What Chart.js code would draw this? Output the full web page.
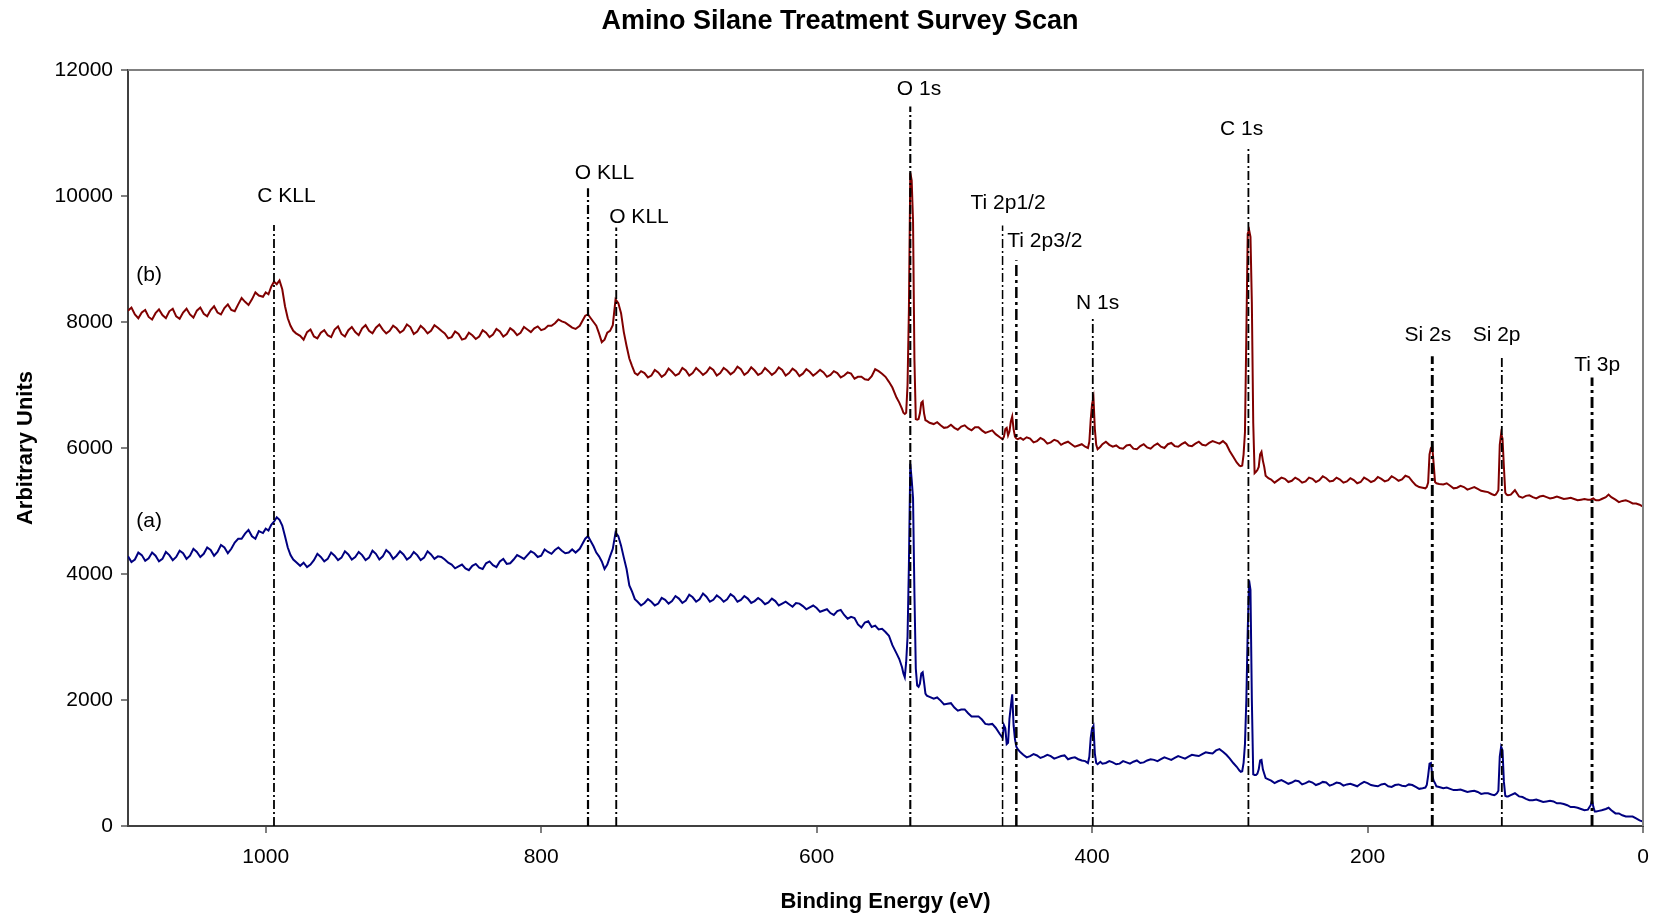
<!DOCTYPE html>
<html><head><meta charset="utf-8">
<script src="https://cdn.jsdelivr.net/npm/chart.js@4.4.1/dist/chart.umd.min.js"></script>
<style>html,body{margin:0;padding:0;background:#fff;}canvas{display:block}</style>
</head><body>
<canvas id="c" width="1660" height="916"></canvas>
<script>
// Binding energy grid (eV), shared by both scans
const energies = [
 1100,1095,1090,1085,1080,1075,1070,1065,1060,1055,1050,1045,1040,1035,1030,1025,1020,1015,1010,1005,
 1002,1000,998,996,994,992,990,988,986,984,982,980,978,
 975,970,965,960,955,950,945,940,935,930,925,920,915,910,905,900,895,890,885,880,875,870,865,860,855,850,845,840,835,830,825,820,815,810,805,800,795,790,785,780,775,
 772,770,768,766,764,762,760,758,756,754,752,750,748,746,744,742,740,738,736,734,732,730,
 725,720,715,710,705,700,695,690,685,680,675,670,665,660,655,650,645,640,635,630,625,620,615,610,605,600,595,590,585,580,575,570,565,560,555,550,545,
 542,540,538,537,536,535,534,533,532,531,530,529,528,527,526,525,524,523,522,521,520,518,
 515,510,505,500,495,490,485,480,475,470,
 467,465,464,463,462,461,460,459,458,457,456,455,454,452,450,
 445,440,435,430,425,420,415,410,405,
 403,402,401,400,399,398,397,396,394,
 390,385,380,375,370,365,360,355,350,345,340,335,330,325,320,315,310,305,300,295,
 293,292,291,290,289,288,287,286,285,284,283,282,281,280,279,278,277,276,275,274,272,270,
 265,260,255,250,245,240,235,230,225,220,215,210,205,200,195,190,185,180,175,170,165,160,
 158,157,156,155,154,153,152,151,150,148,
 145,140,135,130,125,120,115,110,
 108,107,106,105,104,103,102,101,100,99,98,96,
 93,90,85,80,75,70,65,60,55,50,45,40,
 38,37,36,35,34,32,30,27,25,23,20,15,10,5,0
];
// (b) scan counts
const scanB = [
 8180,8120,8150,8080,8140,8110,8170,8090,8150,8120,8180,8130,8190,8150,8220,8190,8280,8320,8360,8420,
 8400,8470,8440,8560,8640,8600,8660,8520,8250,8060,7940,7860,7820,
 7780,7840,7770,7830,7790,7880,7810,7870,7840,7900,7860,7910,7880,7860,7900,7870,7920,7850,7890,7860,7910,7820,7760,7810,7740,7790,7770,7830,7800,7850,7810,7860,7830,7880,7900,7870,7940,7980,8010,7950,7890,
 7940,8020,8100,8120,8060,8000,7940,7820,7680,7720,7830,7860,7950,8360,8300,8140,7840,7620,7420,7300,7190,7160,
 7190,7150,7200,7170,7210,7180,7230,7190,7220,7200,7240,7190,7230,7210,7250,7200,7230,7190,7220,7200,7240,7190,7220,7180,7210,7190,7200,7160,7190,7150,7180,7130,7090,7140,7220,7130,6960,
 6800,6720,6620,6560,6540,6560,7000,8200,10370,10250,9600,7400,6460,6450,6460,6550,6720,6740,6550,6440,6430,6400,
 6380,6360,6330,6320,6340,6310,6330,6280,6260,6220,
 6170,6140,6180,6300,6320,6200,6260,6420,6500,6300,6180,6150,6140,6160,6130,
 6150,6110,6130,6090,6110,6080,6060,6040,6020,
 6000,6100,6450,6700,6800,6300,6050,5980,6020,
 6100,6020,6000,6040,5990,6030,6010,6040,6020,6060,6030,6060,6040,6070,6050,6080,6090,6110,5950,5770,
 5720,5710,5720,5900,6250,7800,9400,9460,9350,8300,6400,5600,5620,5650,5700,5900,5940,5800,5700,5560,5520,5500,
 5490,5510,5480,5500,5470,5510,5490,5520,5480,5500,5470,5490,5460,5500,5480,5510,5490,5520,5500,5540,5410,5370,
 5360,5380,5450,5900,6000,6020,5750,5460,5440,5430,
 5420,5400,5370,5380,5360,5350,5310,5270,
 5250,5260,5290,5330,6050,6230,6150,5700,5290,5260,5250,5260,
 5330,5230,5240,5220,5230,5220,5210,5210,5200,5190,5180,5180,
 5180,5190,5200,5180,5170,5170,5190,5220,5260,5220,5180,5160,5150,5120,5070
];
// (a) scan counts
const scanA = [
 4280,4230,4300,4250,4290,4240,4300,4270,4330,4290,4350,4320,4380,4350,4420,4400,4560,4640,4600,4680,
 4650,4720,4690,4780,4830,4900,4860,4770,4600,4420,4300,4230,4190,
 4130,4110,4220,4270,4240,4290,4260,4310,4270,4300,4260,4320,4280,4330,4290,4310,4270,4300,4260,4310,4280,4230,4150,4120,4090,4130,4100,4170,4140,4200,4160,4230,4270,4300,4330,4290,4350,4380,4370,4340,4340,
 4400,4480,4560,4600,4520,4440,4340,4280,4200,4080,4150,4280,4400,4660,4600,4450,4260,4080,3820,3720,3600,3560,
 3540,3560,3530,3590,3570,3610,3580,3630,3600,3640,3590,3620,3600,3640,3590,3610,3570,3580,3550,3570,3530,3520,3540,3490,3470,3460,3420,3380,3410,3350,3320,3200,3230,3160,3120,3080,2870,
 2740,2650,2520,2420,2360,2600,3000,4150,5750,5500,5200,3700,2500,2230,2210,2260,2420,2440,2280,2100,2070,2050,
 2020,1990,1940,1880,1850,1790,1740,1690,1610,1560,
 1460,1400,1600,1550,1300,1320,1700,1900,2090,1600,1380,1260,1220,1170,1130,
 1110,1120,1100,1110,1090,1120,1080,1060,1030,
 1000,1100,1400,1550,1590,1150,1000,980,1020,
 1000,1010,990,1010,1020,1000,1040,1050,1060,1070,1080,1090,1100,1120,1140,1160,1200,1180,1070,940,
 880,860,870,1000,1300,2000,3100,3900,3750,2000,820,810,810,830,900,1040,1050,900,830,760,740,720,
 710,700,690,710,680,690,670,690,660,680,660,650,670,680,640,660,630,650,640,660,620,600,
 610,650,800,990,1000,800,720,680,630,620,
 600,590,570,560,550,540,520,500,
 490,500,520,560,1100,1260,1200,700,480,470,470,490,
 520,470,430,410,400,390,390,360,330,300,270,260,
 330,410,300,230,230,240,250,270,290,250,200,170,150,120,70
];
// extra samples read from the noisy flat stretches (between the grid points above)
const midEnergies = [
 1097.5,1092.5,1087.5,1082.5,1077.5,1072.5,1067.5,1062.5,1057.5,1052.5,1047.5,1042.5,1037.5,1032.5,1027.5,1022.5,1017.5,1012.5,1007.5,
 972.5,967.5,962.5,957.5,952.5,947.5,942.5,937.5,932.5,927.5,922.5,917.5,912.5,907.5,902.5,897.5,892.5,887.5,882.5,877.5,872.5,867.5,862.5,857.5,852.5,847.5,842.5,837.5,832.5,827.5,822.5,817.5,812.5,807.5,802.5,797.5,792.5,787.5,782.5,777.5,
 727.5,722.5,717.5,712.5,707.5,702.5,697.5,692.5,687.5,682.5,677.5,672.5,667.5,662.5,657.5,652.5,647.5,642.5,637.5,632.5,627.5,622.5,617.5,612.5,607.5,602.5,597.5,592.5,587.5,582.5,577.5,572.5,567.5,562.5,557.5,552.5,547.5,
 512.5,507.5,502.5,497.5,492.5,487.5,482.5,477.5,472.5,
 447.5,442.5,437.5,432.5,427.5,422.5,417.5,412.5,407.5,
 392.5,387.5,382.5,377.5,372.5,367.5,362.5,357.5,352.5,347.5,342.5,337.5,332.5,327.5,322.5,317.5,312.5,307.5,302.5,297.5,
 267.5,262.5,257.5,252.5,247.5,242.5,237.5,232.5,227.5,222.5,217.5,212.5,207.5,202.5,197.5,192.5,187.5,182.5,177.5,172.5,167.5,162.5,
 142.5,137.5,132.5,127.5,122.5,117.5,112.5,
 87.5,82.5,77.5,72.5,67.5,62.5,57.5,52.5,47.5,42.5,
 17.5,12.5,7.5,2.5
];
const midB = [
 8230,8060,8190,8040,8200,8060,8210,8050,8210,8070,8230,8090,8250,8120,8280,8170,8380,8270,8470,
 7720,7880,7740,7870,7760,7930,7770,7920,7790,7950,7820,7960,7820,7940,7830,7960,7810,7940,7820,7950,7860,7740,7850,7720,7830,7730,7870,7760,7890,7770,7900,7790,7920,7840,7930,7890,7940,8040,7990,7910,
 7220,7120,7240,7130,7260,7150,7270,7150,7270,7160,7280,7150,7270,7170,7290,7160,7280,7160,7270,7160,7280,7150,7260,7140,7250,7150,7240,7130,7220,7120,7200,7100,7130,7080,7250,7180,7050,
 6410,6320,6370,6290,6360,6280,6330,6240,6280,
 6170,6090,6160,6070,6130,6050,6100,6020,6060,
 6060,6050,6040,5990,6050,5980,6060,5990,6070,6000,6080,6020,6090,6030,6100,6040,6110,6070,6060,5860,
 5450,5530,5460,5530,5450,5530,5460,5550,5470,5530,5450,5520,5440,5530,5460,5540,5470,5550,5480,5560,5470,5380,
 5440,5360,5400,5340,5380,5320,5300,
 5210,5250,5200,5240,5200,5230,5190,5210,5170,5190,
 5140,5170,5120,5100
];
const midA = [
 4190,4340,4210,4340,4200,4350,4220,4370,4240,4400,4270,4420,4290,4460,4330,4500,4560,4700,4560,
 4180,4150,4320,4200,4340,4220,4360,4230,4350,4220,4370,4230,4380,4240,4360,4230,4350,4220,4360,4240,4270,4180,4090,4150,4060,4160,4080,4200,4110,4240,4170,4300,4240,4360,4270,4390,4320,4420,4330,4390,
 3500,3600,3500,3620,3530,3650,3540,3670,3560,3690,3560,3660,3560,3680,3560,3650,3540,3620,3520,3610,3500,3560,3480,3530,3440,3500,3400,3440,3350,3430,3290,3300,3150,3250,3180,3130,3020,
 2040,1930,1950,1830,1850,1740,1740,1620,1620,
 1090,1140,1080,1130,1070,1110,1060,1090,1040,
 990,1030,980,1030,990,1040,1010,1060,1030,1090,1050,1110,1070,1130,1110,1170,1150,1220,1130,1000,
 680,730,670,720,660,710,650,700,640,690,640,670,630,700,650,630,670,620,660,630,650,590,
 610,570,580,540,560,510,520,
 460,410,420,380,400,360,350,300,290,250,
 200,150,150,90
];
const xTicks = [0,200,400,600,800,1000];
const yTicks = [0,2000,4000,6000,8000,10000,12000];

// Peak assignments
const peakNames     = ['C KLL','O KLL','O KLL','O 1s','Ti 2p1/2','Ti 2p3/2','N 1s','C 1s','Si 2s','Si 2p','Ti 3p'];
const peakEnergies  = [994,766,745.5,532,465,455,399.5,286.5,153,102.5,37];
const peakLineTops  = [9540,10125,9500,11420,9530,8980,8065,10790,7455,7455,7120];
const labelEnergies = [985,754,729,525.7,461,434.3,396,291.4,156.2,106.3,33.3];
const labelValues   = [10000,10365,9667,11698,9889,9275,8302,11063,7794,7794,7318];
const seriesTags    = ['(b)','(a)'];
const tagEnergies   = [1094,1094];
const tagValues     = [8746,4843];

// styles (kept apart from data)
const markerWidths = [1.8,2.2,1.9,2.1,1.5,2.5,1.8,1.8,2.9,1.8,2.9];
const FONT = '"Liberation Sans", Arial, Helvetica, sans-serif';

// merge grid + extra samples into one table sorted by energy
const table = energies.map((e,i)=>({e, b:scanB[i], a:scanA[i]}))
  .concat(midEnergies.map((e,i)=>({e, b:midB[i], a:midA[i]})))
  .sort((p,q)=>q.e-p.e);

const datasets = [];
peakNames.forEach((n,i)=>{
  const w = markerWidths[i];
  datasets.push({
    label: n, data: [{x:peakEnergies[i], y:0},{x:peakEnergies[i], y:peakLineTops[i]}],
    borderColor:'#000', borderWidth:w, borderDash: w>2.2 ? [11,4,3,4] : [9,3,2,3],
    pointRadius:0, fill:false, order:0
  });
});
datasets.push({label:'(b)', data: table.map(r=>({x:r.e,y:r.b})), borderColor:'#800000', borderWidth:2, pointRadius:0, fill:false, tension:0, order:1});
datasets.push({label:'(a)', data: table.map(r=>({x:r.e,y:r.a})), borderColor:'#000080', borderWidth:2, pointRadius:0, fill:false, tension:0, order:1});

const deco = {
  id:'deco',
  afterDraw(chart){
    const {ctx, chartArea:a, scales:{x,y}} = chart;
    ctx.save();
    ctx.strokeStyle='#808080'; ctx.lineWidth=2;
    ctx.beginPath(); ctx.moveTo(a.left,a.top); ctx.lineTo(a.right,a.top); ctx.lineTo(a.right,a.bottom); ctx.stroke();
    ctx.fillStyle='#000';
    ctx.font='bold 27px '+FONT; ctx.textAlign='center'; ctx.textBaseline='middle';
    ctx.fillText('Amino Silane Treatment Survey Scan', 840, 22);
    ctx.font='21px '+FONT;
    peakNames.forEach((n,i)=> ctx.fillText(n, x.getPixelForValue(labelEnergies[i]), y.getPixelForValue(labelValues[i])));
    ctx.textAlign='left';
    seriesTags.forEach((t,i)=> ctx.fillText(t, x.getPixelForValue(tagEnergies[i]), y.getPixelForValue(tagValues[i])));
    ctx.restore();
  }
};

new Chart(document.getElementById('c'), {
  type:'line',
  data:{datasets},
  plugins:[deco],
  options:{
    responsive:false, animation:false, devicePixelRatio:1,
    layout:{padding:{left:0,right:17,top:70,bottom:0}},
    plugins:{legend:{display:false}, tooltip:{enabled:false}, title:{display:false}},
    scales:{
      x:{type:'linear', reverse:true, min:0, max:1100,
         afterBuildTicks:s=>{s.ticks = xTicks.map(v=>({value:v}));},
         afterFit:s=>{s.height=90;},
         ticks:{autoSkip:false, maxRotation:0, color:'#000', font:{family:FONT,size:21}, padding:12, callback:v=>String(v)},
         grid:{drawOnChartArea:false, drawTicks:true, tickLength:7, color:'#808080', lineWidth:2},
         border:{display:true, color:'#404040', width:2},
         title:{display:true, text:'Binding Energy (eV)', color:'#000', font:{family:FONT,size:22,weight:'bold'}, padding:{top:0,bottom:1}}
      },
      y:{type:'linear', min:0, max:12000,
         afterBuildTicks:s=>{s.ticks = yTicks.map(v=>({value:v}));},
         afterFit:s=>{s.width=128;},
         ticks:{autoSkip:false, color:'#000', font:{family:FONT,size:21}, padding:8, callback:v=>String(v)},
         grid:{drawOnChartArea:false, drawTicks:true, tickLength:7, color:'#808080', lineWidth:2},
         border:{display:true, color:'#404040', width:2},
         title:{display:true, text:'Arbitrary Units', color:'#000', font:{family:FONT,size:22,weight:'bold'}, padding:{top:13,bottom:0}}
      }
    }
  }
});
</script>
</body></html>
